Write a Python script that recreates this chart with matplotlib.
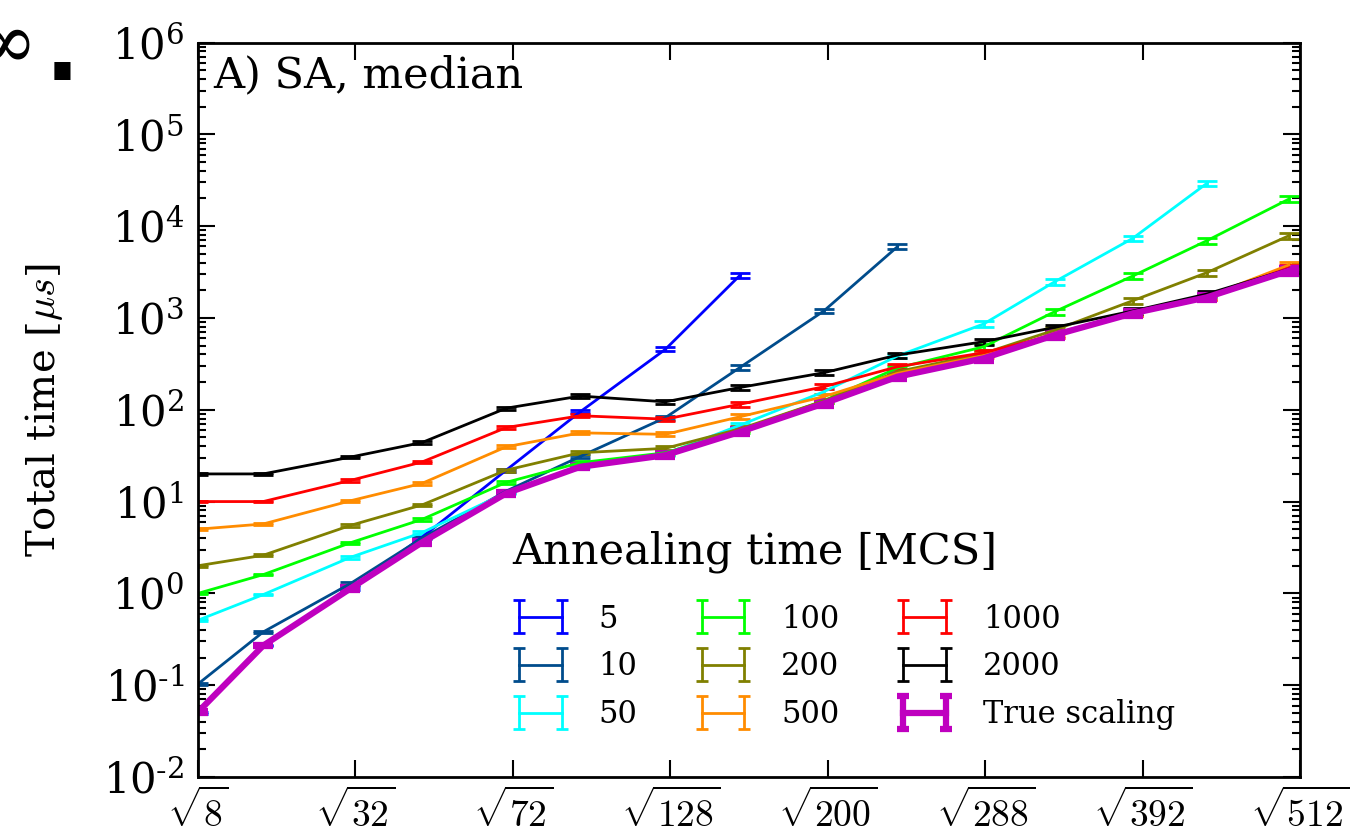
import numpy as np
import matplotlib
matplotlib.use("Agg")
import matplotlib.pyplot as plt
from matplotlib.ticker import FixedLocator, FuncFormatter, LogLocator, NullLocator
from matplotlib.legend_handler import HandlerErrorbar

plt.rcParams['font.family'] = ['DejaVu Serif']
plt.rcParams['mathtext.fontset'] = 'cm'

# problem sizes (number of spins)
sizes = np.array([8, 16, 31, 47, 70, 94, 126, 158, 198, 237, 287, 332, 385, 439, 503])

# median total time [us] per annealing time
t5 = [0.05, 0.27, 1.13, 4.1, 22, 95, 455, 2930]
t10 = [0.103, 0.38, 1.28, 4.0, 13, 31, 82, 290, 1190, 5970]
t50 = [0.51, 0.97, 2.47, 4.6, 12.5, 24, 33, 68, 157, 385, 858, 2480, 7360, 29200]
t100 = [1.0, 1.6, 3.56, 6.4, 16.2, 26.5, 34, 60, 125, 285, 485, 1170, 2860, 6930, 19700]
t200 = [2.0, 2.6, 5.5, 9.2, 22, 34, 38, 62, 125, 260, 410, 738, 1540, 3110, 7860]
t500 = [5.0, 5.7, 10.2, 15.8, 39.5, 56, 54, 84, 139, 249, 390, 680, 1130, 1700, 3770]
t1000 = [10, 10, 17, 27, 64, 86, 79, 115, 178, 294, 418, 651, 1120, 1700, 3500]
t2000 = [20, 20, 30.5, 44, 104, 141, 122, 175, 253, 394, 551, 790, 1190, 1820, 3400]
t_true = [0.051, 0.27, 1.13, 3.6, 12.3, 23.9, 32, 57.6, 117, 229, 363, 651, 1122, 1676, 3266]

# relative error of the medians
rel_err = [0.02, 0.02, 0.03, 0.03, 0.04, 0.04, 0.05, 0.06, 0.06, 0.06, 0.07, 0.07, 0.07, 0.07, 0.07]

labels = ['5', '10', '50', '100', '200', '500', '1000', '2000', 'True scaling']
colors = ['#0000ff', '#004c8c', '#00ffff', '#00ff00', '#808000', '#ff8c00', '#ff0000', '#000000', '#bf00bf']
series = [t5, t10, t50, t100, t200, t500, t1000, t2000, t_true]

tick_n = [8, 32, 72, 128, 200, 288, 392, 512]


def ylab(v, pos):
    e = int(round(np.log10(v)))
    if e < 0:
        return r'$\mathdefault{10^{\text{-}%d}}$' % (-e)
    return r'$\mathdefault{10^{%d}}$' % e


fig = plt.figure(figsize=(13.54, 8.32), dpi=100)
ax = fig.add_axes([198/1354, 1 - 777/832, 1102/1354, 734.5/832])

handles = []
for vals, lab, col in zip(series, labels, colors):
    vals = np.array(vals, dtype=float)
    n = len(vals)
    x = np.sqrt(sizes[:n])
    err = vals * np.array(rel_err[:n])
    lw = 4.5 if lab == 'True scaling' else 2.0
    ax.errorbar(x, vals, yerr=err, color=col, lw=lw, elinewidth=lw,
                capsize=7.5, capthick=lw)
    # legend proxy with smaller caps
    h = ax.errorbar([np.nan], [np.nan], yerr=[np.nan], color=col, lw=lw,
                    elinewidth=lw, capsize=4, capthick=lw, label=lab)
    handles.append(h)

ax.set_yscale('log')
ax.set_ylim(1e-2, 1e6)
ax.set_xlim(np.sqrt(8), np.sqrt(512))

ax.xaxis.set_major_locator(FixedLocator(np.sqrt(tick_n)))
ax.set_xticklabels([r'$\sqrt{%d}$' % n for n in tick_n])
ax.xaxis.set_minor_locator(NullLocator())
ax.yaxis.set_major_locator(LogLocator(base=10, numticks=20))
ax.yaxis.set_minor_locator(LogLocator(base=10, subs=np.arange(2, 10), numticks=20))
ax.yaxis.set_major_formatter(FuncFormatter(ylab))

ax.tick_params(which='both', direction='in', top=True, right=True, width=1.5)
ax.tick_params(which='major', length=12, labelsize=30, pad=10)
ax.tick_params(axis='x', which='major', labelsize=27, pad=9)
ax.tick_params(which='minor', length=6)
for s in ax.spines.values():
    s.set_linewidth(2)

ax.set_ylabel(r'Total time [$\mu s$]', fontsize=29)
ax.yaxis.set_label_coords(-0.121, 0.5)
ax.text(0.0136, 0.984, 'A) SA, median', transform=ax.transAxes, fontsize=31,
        ha='left', va='top')

ax.text((512 - 198) / 1102, (777 - 552) / 734.5, 'Annealing time [MCS]',
        transform=ax.transAxes, fontsize=31, ha='left', va='center')
ax.legend(handles=handles, loc='upper left', bbox_to_anchor=(0.283, 0.236), ncol=3,
          frameon=False, numpoints=2, fontsize=22, handlelength=2.0,
          handletextpad=0.9, columnspacing=1.8, labelspacing=0.55,
          borderpad=0, borderaxespad=0,
          handler_map={type(handles[0]): HandlerErrorbar(yerr_size=0.54)})

fig.text(5/1354, 1 - 45/832, '\u221e', fontsize=56, ha='center', va='center')
fig.text(62/1354, 1 - 80/832, '.', fontsize=66, fontweight='bold',
         family='DejaVu Sans', ha='center', va='baseline')

fig.savefig('out.png', dpi=100)
